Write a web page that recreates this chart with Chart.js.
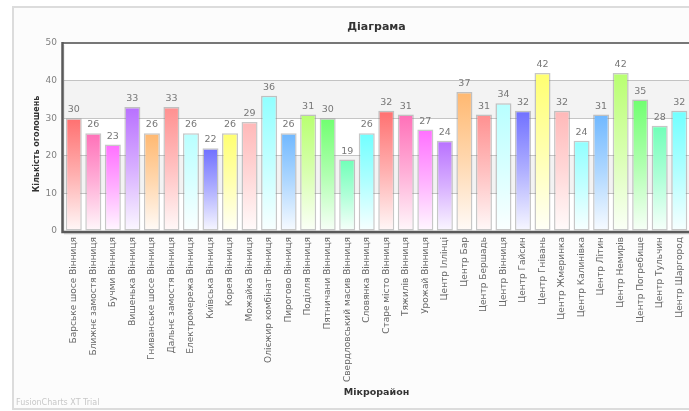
<!DOCTYPE html>
<html>
<head>
<meta charset="utf-8">
<script src="https://cdn.jsdelivr.net/npm/chart.js@4.4.1/dist/chart.umd.min.js"></script>
<style>
html,body{margin:0;padding:0;background:#fff;}
#wrap{width:689px;height:411px;position:relative;}
canvas{display:block;}
</style>
</head>
<body>
<div id="wrap"><canvas id="c" width="689" height="411"></canvas></div>
<script>
const categories = [
  'Барське шосе Вінниця','Ближнє замостя Вінниця','Бучми Вінниця','Вишенька Вінниця',
  'Гниванське шосе Вінниця','Дальнє замостя Вінниця','Електромережа Вінниця','Київська Вінниця',
  'Корея Вінниця','Можайка Вінниця','Олієжир комбінат Вінниця','Пирогово Вінниця',
  'Поділля Вінниця','Пятничани Вінниця','Свердловський масив Вінниця','Словянка Вінниця',
  'Старе місто Вінниця','Тяжилів Вінниця','Урожай Вінниця','Центр Іллінці',
  'Центр Бар','Центр Бершадь','Центр Вінниця','Центр Гайсин',
  'Центр Гнівань','Центр Жмеринка','Центр Калинівка','Центр Літин',
  'Центр Немирів','Центр Погребище','Центр Тульчин','Центр Шаргород'
];
const counts = [30,26,23,33,26,33,26,22,26,29,36,26,31,30,19,26,32,31,27,24,37,31,34,32,42,32,24,31,42,35,28,32];
const barColors = ['#FF7070','#FF70B8','#FF70FF','#B870FF','#FFB870','#FF9090','#B8FFFF','#7070FF',
                   '#FFFF70','#FFB8B8','#90FFFF','#70B8FF','#B8FF70','#70FF70','#70FFB8','#70FFFF'];
const yTickValues = [0,10,20,30,40,50];
const shadedBands = [[10,20],[30,40]];
const chartTitle = 'Діаграма';
const xTitle = 'Мікрорайон';
const yTitle = 'Кількість оголошень';
const trialText = 'FusionCharts XT Trial';

function hexToRgb(h){const n=parseInt(h.slice(1),16);return [(n>>16)&255,(n>>8)&255,n&255];}
function mixWhite(h,t){const [r,g,b]=hexToRgb(h);const f=v=>Math.round(v+(255-v)*t);return `rgb(${f(r)},${f(g)},${f(b)})`;}

const FONT = 'DejaVu Sans';

const framePlugin = {
  id:'frame',
  beforeDraw(chart){
    const c=chart.ctx, W=chart.width, H=chart.height, a=chart.chartArea;
    c.save();
    c.fillStyle='#ffffff'; c.fillRect(0,0,W,H);
    c.fillStyle='#fcfcfc'; c.fillRect(13,7,W,H-9);
    c.strokeStyle='#dcdcdc'; c.lineWidth=2; c.strokeRect(13,7,W+5,H-9);
    c.fillStyle='#ffffff'; c.fillRect(a.left,a.top,a.right-a.left,a.bottom-a.top);
    const y=chart.scales.y;
    c.fillStyle='#f3f3f3';
    shadedBands.forEach(([lo,hi])=>{
      const t=y.getPixelForValue(hi), b=y.getPixelForValue(lo);
      c.fillRect(a.left,t,a.right-a.left,b-t);
    });
    c.fillStyle='#c8c8c8'; c.font='8px '+FONT; c.textBaseline='middle';
    c.fillText(trialText,16,403);
    c.restore();
  },
  afterDraw(chart){
    const c=chart.ctx, a=chart.chartArea;
    c.save();
    // axis lines
    c.strokeStyle='rgba(0,0,0,0.12)'; c.lineWidth=2;
    c.beginPath(); c.moveTo(a.left-0.5,a.top+2); c.lineTo(a.left-0.5,a.bottom+2); c.moveTo(a.left,a.bottom+2.5); c.lineTo(a.right,a.bottom+2.5); c.stroke();
    c.strokeStyle='#777777'; c.lineWidth=2;
    c.beginPath(); c.moveTo(a.left-2,a.top); c.lineTo(a.right+2,a.top); c.stroke();
    c.strokeStyle='#5a5a5a'; c.lineWidth=2.5;
    c.beginPath(); c.moveTo(a.left-1.5,a.top-1); c.lineTo(a.left-1.5,a.bottom+1); c.lineTo(a.right+2,a.bottom+1); c.stroke();
    // y title
    c.translate(37,(a.top+a.bottom)/2+7);
    c.rotate(-Math.PI/2);
    c.fillStyle='#333333'; c.font='bold 8px '+FONT; c.textAlign='center'; c.textBaseline='middle';
    c.fillText(yTitle,0,0);
    c.restore();
  },
  afterDatasetsDraw(chart){
    const c=chart.ctx;
    const meta=chart.getDatasetMeta(0);
    c.save();
    c.fillStyle='#777777'; c.font='9.5px '+FONT; c.textAlign='center'; c.textBaseline='bottom';
    meta.data.forEach((el,i)=>{ c.fillText(String(counts[i]), el.x, el.y-3.5); });
    c.restore();
  }
};

new Chart(document.getElementById('c'),{
  type:'bar',
  data:{
    labels:categories,
    datasets:[{
      data:counts,
      backgroundColor:(ctx)=>{
        const col=barColors[ctx.dataIndex%barColors.length];
        const chart=ctx.chart, y=chart.scales&&chart.scales.y;
        if(!y || !chart.chartArea || ctx.raw==null) return col;
        const top=y.getPixelForValue(ctx.raw), base=y.getPixelForValue(0);
        if(!isFinite(top)||!isFinite(base)||base-top<1) return col;
        const g=chart.ctx.createLinearGradient(0,top,0,base);
        g.addColorStop(0,col); g.addColorStop(0.5,mixWhite(col,0.45)); g.addColorStop(1,mixWhite(col,0.95));
        return g;
      },
      borderColor:'rgba(130,130,130,0.45)',
      borderWidth:1.5,
      borderSkipped:false,
      barPercentage:0.82,
      categoryPercentage:1.0
    }]
  },
  options:{
    responsive:false,
    animation:false,
    devicePixelRatio:1,
    layout:{padding:{left:31,right:0,top:0,bottom:0}},
    plugins:{
      legend:{display:false},
      tooltip:{enabled:false},
      title:{
        display:true, text:chartTitle, fullSize:false,
        color:'#333333', font:{family:FONT,size:11,weight:'bold'},
        padding:{top:20.9,bottom:8.9}
      }
    },
    scales:{
      x:{
        offset:true,
        grid:{display:false,drawTicks:false},
        border:{display:false},
        ticks:{autoSkip:false,maxRotation:90,minRotation:90,padding:6,color:'#666666',font:{family:FONT,size:9}},
        title:{display:true,text:xTitle,color:'#333333',font:{family:FONT,size:9.5,weight:'bold'},padding:{top:0,bottom:13}},
        afterFit(s){ s.height = 411-231; s.paddingLeft=0; s.paddingRight=0; }
      },
      y:{
        min:0,max:50,
        z:1,
        afterBuildTicks(s){ s.ticks = yTickValues.map(v=>({value:v})); },
        grid:{color:'rgba(0,0,0,0.22)',lineWidth:1,drawTicks:false},
        border:{display:false},
        ticks:{padding:7,color:'#808080',font:{family:FONT,size:9}},
        afterFit(s){ s.width = 33; }
      }
    }
  },
  plugins:[framePlugin]
});
</script>
</body>
</html>
